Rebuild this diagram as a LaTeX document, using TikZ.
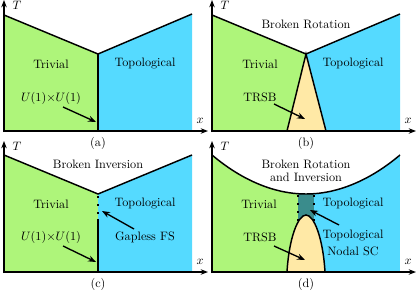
\documentclass[tikz,border=0pt]{standalone}
\usetikzlibrary{arrows.meta}
\definecolor{trivgreen}{RGB}{174,245,122}
\definecolor{topocyan}{RGB}{85,218,255}
\definecolor{trsbyellow}{RGB}{255,233,166}
\definecolor{nodalteal}{RGB}{58,140,140}
\begin{document}
\begin{tikzpicture}[x=0.82pt,y=-0.82pt,
  bd/.style={line width=1.2pt,line join=miter},
  ax/.style={line width=1.1pt,-{Stealth[length=6pt,width=4.5pt]}},
  arr/.style={line width=1.1pt,-{Stealth[length=6.5pt,width=5pt]}},
  lbl/.style={inner sep=0pt,text=black},
  dot/.style={fill=black}]
\useasboundingbox (0,0) rectangle (416,295);
\newcommand{\axesdraw}{%
  \coordinate (o) at (3,131);
  \coordinate (xe) at (208,131);
  \coordinate (te) at (4,0);
  \draw[ax] (o) -- (xe);
  \draw[ax] (4,132) -- (te);
  \node[lbl] (tl) at (17,5) {$T$};
  \node[lbl] (xl) at (200,121) {$x$};
}
% ---------------- (a)
\begin{scope}
  \fill[trivgreen] (4,15) -- (98,54) -- (98,131) -- (4,131) -- cycle;
  \fill[topocyan] (98,54) -- (192,14) -- (192,131) -- (98,131) -- cycle;
  \draw[bd] (4,15) -- (98,54) -- (192,14);
  \draw[bd] (98,54) -- (98,131);
  \axesdraw
  \node[lbl] (triva) at (51,64) {Trivial};
  \node[lbl] (topa) at (145,64) {Topological};
  \node[lbl] (ua) at (51,98) {$U(1){\times}U(1)$};
  \coordinate (uat) at (63,107);
  \coordinate (uah) at (96,122);
  \draw[arr] (uat) -- (uah);
  \node[lbl] (capa) at (98,143) {(a)};
\end{scope}
% ---------------- (b)
\begin{scope}[shift={(208,0)}]
  \fill[trivgreen] (4,15) -- (98,54) -- (79,131) -- (4,131) -- cycle;
  \fill[topocyan] (98,54) -- (192,14) -- (192,131) -- (118,131) -- cycle;
  \fill[trsbyellow] (98,54) -- (79,131) -- (118,131) -- cycle;
  \draw[bd] (4,15) -- (98,54) -- (192,14);
  \draw[bd] (79,131) -- (98,54) -- (118,131);
  \axesdraw
  \node[lbl] (brb) at (98,24) {Broken Rotation};
  \node[lbl] (trivb) at (52,64) {Trivial};
  \node[lbl] (topb) at (145,64) {Topological};
  \node[lbl] (trsbb) at (52,97) {TRSB};
  \coordinate (tbt) at (66,104);
  \coordinate (tbh) at (97,119);
  \draw[arr] (tbt) -- (tbh);
  \node[lbl] (capb) at (98,143) {(b)};
\end{scope}
% ---------------- (c)
\begin{scope}[shift={(0,141)}]
  \fill[trivgreen] (4,14) -- (98,53) -- (98,131) -- (4,131) -- cycle;
  \fill[topocyan] (98,53) -- (192,14) -- (192,131) -- (98,131) -- cycle;
  \draw[bd] (4,14) -- (98,53) -- (192,14);
  \coordinate (fsb) at (98,79);
  \coordinate (fse) at (98,131);
  \draw[bd] (fsb) -- (fse);
  \foreach \yy in {56,64,72,79}{\fill[dot] (96.7,\yy-1.3) rectangle ++(2.6,2.6);}
  \axesdraw
  \node[lbl] (bic) at (98,23) {Broken Inversion};
  \node[lbl] (trivc) at (51,63) {Trivial};
  \node[lbl] (topc) at (145,63) {Topological};
  \node[lbl] (uc) at (51,96) {$U(1){\times}U(1)$};
  \coordinate (uct) at (63,105);
  \coordinate (uch) at (96,121);
  \draw[arr] (uct) -- (uch);
  \node[lbl] (gfs) at (145,96) {Gapless FS};
  \coordinate (gft) at (134,88);
  \coordinate (gfh) at (102,70);
  \draw[arr] (gft) -- (gfh);
  \node[lbl] (capc) at (98,143) {(c)};
\end{scope}
% ---------------- (d)
\begin{scope}[shift={(208,141)}]
  \begin{scope}
    \clip (4,14) parabola bend (98,53) (192,14) -- (192,131) -- (4,131) -- cycle;
    \fill[trivgreen] (4,0) rectangle (98,131);
    \fill[topocyan] (98,0) rectangle (192,131);
    \fill[nodalteal] (90,0) rectangle (106,80);
  \end{scope}
  \draw[bd] (4,14) parabola bend (98,53) (192,14);
  \fill[trsbyellow] (79,131) .. controls (81,97) and (90,74) .. (98,74)
     .. controls (106,74) and (115,97) .. (117,131) -- cycle;
  \draw[bd] (79,131) .. controls (81,97) and (90,74) .. (98,74)
     .. controls (106,74) and (115,97) .. (117,131);
  \foreach \xx in {90,106}{
    \foreach \yy in {55,63,71,79}{\fill[dot] (\xx-1.3,\yy-1.3) rectangle ++(2.6,2.6);}}
  \axesdraw
  \node[lbl] (brd1) at (98,23) {Broken Rotation};
  \node[lbl] (brd2) at (98,36) {and Inversion};
  \node[lbl] (trivd) at (51,63) {Trivial};
  \node[lbl] (topd) at (145,63) {Topological};
  \node[lbl] (trsbd) at (52,96) {TRSB};
  \coordinate (tdt) at (66,105);
  \coordinate (tdh) at (97,119);
  \draw[arr] (tdt) -- (tdh);
  \node[lbl] (nod1) at (145,95) {Topological};
  \node[lbl] (nod2) at (145,110) {Nodal SC};
  \coordinate (ndt) at (131,84);
  \coordinate (ndh) at (102,69);
  \draw[arr] (ndt) -- (ndh);
  \node[lbl] (capd) at (98,143) {(d)};
\end{scope}
\end{tikzpicture}
\end{document}
